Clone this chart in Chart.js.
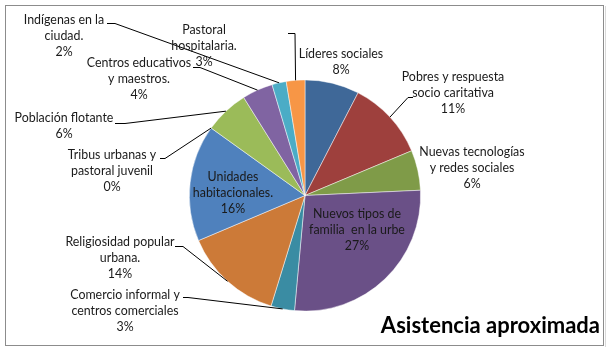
<!DOCTYPE html>
<html>
<head>
<meta charset="utf-8">
<script src="https://cdn.jsdelivr.net/npm/chart.js@4/dist/chart.umd.min.js"></script>
<style>
html,body{margin:0;padding:0;background:#fff;}
#wrap{width:609px;height:352px;position:relative;}
</style>
</head>
<body>
<div id="wrap"><canvas id="c" width="609" height="352"></canvas></div>
<script>
// ---- data ----
const categories = [
  ["Líderes sociales"],
  ["Pobres y respuesta", "socio caritativa"],
  ["Nuevas tecnologías", "y redes sociales"],
  ["Nuevos tipos de", "familia  en la urbe"],
  ["Comercio informal y", "centros comerciales"],
  ["Religiosidad popular", "urbana."],
  ["Unidades", "habitacionales."],
  ["Tribus urbanas y", "pastoral juvenil"],
  ["Población flotante"],
  ["Centros educativos", "y maestros."],
  ["Indígenas en la", "ciudad."],
  ["Pastoral", "hospitalaria."]
];
const values = [7.6, 11.1, 5.6, 27.2, 3.3, 13.9, 16.3, 0, 6.2, 4.3, 2.0, 2.6];
const colors = ["#3F6898", "#9E403D", "#7F9B48", "#6A5087", "#3A8CA3", "#CC7A38",
                "#4F81BD", "#C0504D", "#9BBB59", "#8064A2", "#4BACC6", "#F79646"];
const title = "Asistencia aproximada";

// ---- label layout (text block anchor: center x, first-line y; optional leader stub) ----
const labelLayout = [
  {x: 341, y: 54},
  {x: 453, y: 77, stub: [413, 97, 408]},
  {x: 472, y: 152},
  {x: 357, y: 214},
  {x: 125, y: 295, stub: [183, 297, 188]},
  {x: 120, y: 242, stub: [175, 246, 183]},
  {x: 233, y: 177},
  {x: 112, y: 155, stub: [160, 158, 165]},
  {x: 64,  y: 118, stub: [115, 123, 125]},
  {x: 139, y: 63,  stub: [193, 67, 200]},
  {x: 64,  y: 20,  stub: [107, 23, 115]},
  {x: 204, y: 30,  stub: [288, 33, 295]}
];

const FONT = "12.4px Lato, 'Open Sans', sans-serif";
const LINE_H = 16;

const total = values.reduce((a, b) => a + b, 0);

const framePlugin = {
  id: 'frame',
  beforeDraw(chart) {
    const ctx = chart.ctx;
    ctx.save();
    ctx.fillStyle = '#fff';
    ctx.fillRect(0, 0, chart.width, chart.height);
    ctx.strokeStyle = '#8c8c8c';
    ctx.lineWidth = 1;
    ctx.strokeRect(5.5, 5.5, 598, 340);
    ctx.strokeStyle = '#d9d9d9';
    ctx.beginPath();
    ctx.moveTo(605.5, 6); ctx.lineTo(605.5, 347);
    ctx.stroke();
    ctx.restore();
  }
};

const labelPlugin = {
  id: 'pieLabels',
  afterDatasetsDraw(chart) {
    const ctx = chart.ctx;
    const meta = chart.getDatasetMeta(0);
    ctx.save();
    ctx.font = FONT;
    ctx.textAlign = 'center';
    ctx.textBaseline = 'middle';
    meta.data.forEach((arc, i) => {
      const lay = labelLayout[i];
      const p = arc.getProps(['x', 'y', 'startAngle', 'endAngle', 'outerRadius'], true);
      const mid = (p.startAngle + p.endAngle) / 2;
      const ax = p.x + Math.cos(mid) * p.outerRadius;
      const ay = p.y + Math.sin(mid) * p.outerRadius;
      if (lay.stub) {
        ctx.strokeStyle = '#000';
        ctx.lineWidth = 1;
        ctx.beginPath();
        ctx.moveTo(lay.stub[0], lay.stub[1] + 0.5);
        ctx.lineTo(lay.stub[2], lay.stub[1] + 0.5);
        ctx.lineTo(ax, ay);
        ctx.stroke();
      }
      const pct = Math.round(values[i] / total * 100) + '%';
      const lines = categories[i].concat([pct]);
      ctx.fillStyle = '#1a1a1a';
      lines.forEach((t, k) => {
        ctx.fillText(t, lay.x, lay.y + k * LINE_H);
      });
    });
    // title
    ctx.font = "bold 22px Lato, 'Open Sans', sans-serif";
    ctx.textAlign = 'right';
    ctx.fillStyle = '#000';
    ctx.fillText(title, 600, 326);
    ctx.restore();
  }
};

new Chart(document.getElementById('c'), {
  type: 'pie',
  data: {
    labels: categories,
    datasets: [{
      data: values,
      backgroundColor: colors,
      borderColor: 'rgba(255,255,255,0.6)',
      borderWidth: 0.8
    }]
  },
  options: {
    responsive: false,
    animation: false,
    events: [],
    layout: { padding: { top: 79.5, bottom: 40.5, left: 1, right: 0 } },
    plugins: {
      legend: { display: false },
      tooltip: { enabled: false },
      title: { display: false }
    }
  },
  plugins: [framePlugin, labelPlugin]
});
</script>
</body>
</html>
